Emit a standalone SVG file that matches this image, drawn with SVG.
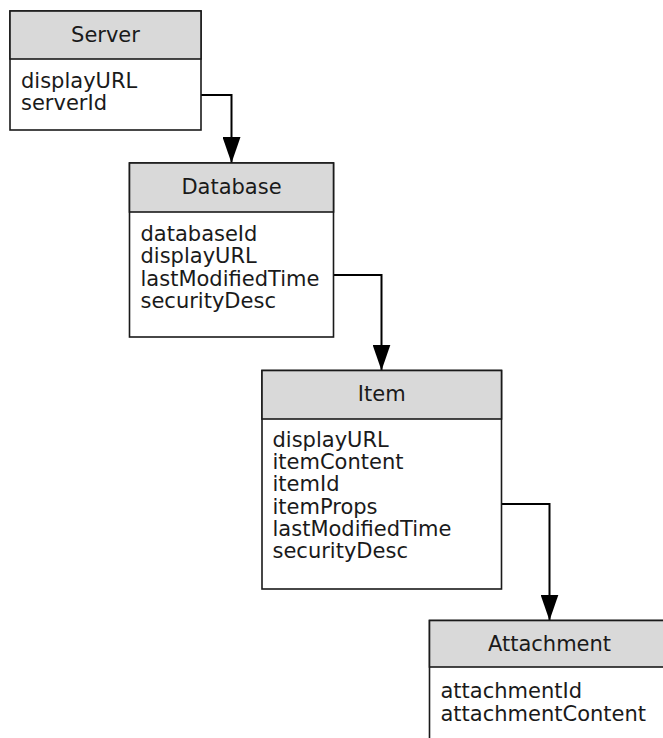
<svg xmlns="http://www.w3.org/2000/svg" width="663" height="738" viewBox="0 0 663 738">
<style>
  .box { fill: #ffffff; stroke: #1a1a1a; stroke-width: 1.6; }
  .hdr { fill: #d9d9d9; stroke: #1a1a1a; stroke-width: 1.6; }
  .title { font-family: "DejaVu Sans", Verdana, sans-serif; font-size: 21px; fill: #1a1a1a; text-anchor: middle; }
  .attr { font-family: "DejaVu Sans", Verdana, sans-serif; font-size: 21px; fill: #1a1a1a; }
  .conn { fill: none; stroke: #000000; stroke-width: 2; }
</style>
<defs>
  <marker id="arrow" markerUnits="userSpaceOnUse" markerWidth="26" markerHeight="18" refX="26" refY="9" viewBox="0 0 26 18" orient="auto">
    <polygon points="0,0 26,9 0,18" fill="#000000"/>
  </marker>
</defs>
<rect width="663" height="738" fill="#ffffff"/>
<g id="connectors">
  <path class="conn" d="M201,95 H231.5 V163" marker-end="url(#arrow)"/>
  <path class="conn" d="M333,275 H381.5 V370.5" marker-end="url(#arrow)"/>
  <path class="conn" d="M501.5,504 H549.5 V620.5" marker-end="url(#arrow)"/>
</g>
<g id="server">
  <rect class="box" x="10" y="11" width="191" height="119"/>
  <rect class="hdr" x="10" y="11" width="191" height="48"/>
  <text class="title" x="105.5" y="42">Server</text>
  <text class="attr" x="21" y="88">displayURL</text>
  <text class="attr" x="21" y="110.3">serverId</text>
</g>
<g id="database">
  <rect class="box" x="129.5" y="163" width="204" height="174"/>
  <rect class="hdr" x="129.5" y="163" width="204" height="49"/>
  <text class="title" x="231.5" y="193.5">Database</text>
  <text class="attr" x="140.5" y="241">databaseId</text>
  <text class="attr" x="140.5" y="263.3">displayURL</text>
  <text class="attr" x="140.5" y="285.6">lastModifiedTime</text>
  <text class="attr" x="140.5" y="307.9">securityDesc</text>
</g>
<g id="item">
  <rect class="box" x="262" y="370.5" width="239.5" height="218.5"/>
  <rect class="hdr" x="262" y="370.5" width="239.5" height="48.5"/>
  <text class="title" x="381.75" y="401">Item</text>
  <text class="attr" x="272.5" y="446.7">displayURL</text>
  <text class="attr" x="272.5" y="469">itemContent</text>
  <text class="attr" x="272.5" y="491.3">itemId</text>
  <text class="attr" x="272.5" y="513.6">itemProps</text>
  <text class="attr" x="272.5" y="535.9">lastModifiedTime</text>
  <text class="attr" x="272.5" y="558.2">securityDesc</text>
</g>
<g id="attachment">
  <rect class="box" x="429.5" y="620.5" width="240" height="130"/>
  <rect class="hdr" x="429.5" y="620.5" width="240" height="46.5"/>
  <text class="title" x="549.5" y="650.5">Attachment</text>
  <text class="attr" x="440.5" y="698.3">attachmentId</text>
  <text class="attr" x="440.5" y="720.5">attachmentContent</text>
</g>
</svg>
